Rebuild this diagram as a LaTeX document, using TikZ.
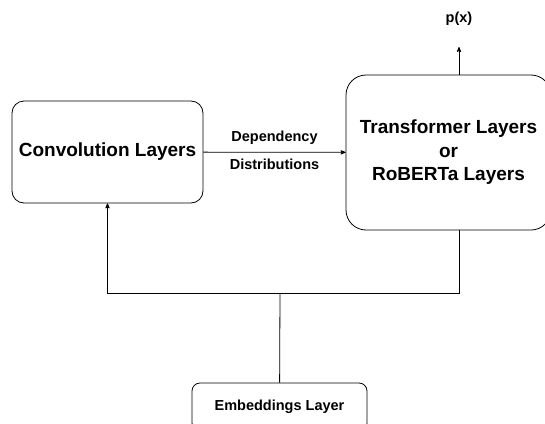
\documentclass[tikz,border=0pt]{standalone}
\usepackage{fontspec}
\setmainfont{Liberation Sans}
\usetikzlibrary{arrows,positioning}

\tikzset{
  layerbox/.style={draw, line width=0.8pt, align=center},
  bigtext/.style={font=\fontsize{19}{23.5}\selectfont\bfseries},
  smalltext/.style={font=\fontsize{14.5}{17}\selectfont\bfseries},
  flow/.style={line width=0.8pt},
}

\begin{document}
\begin{tikzpicture}[x=1pt,y=-1pt,>=stealth']
  \useasboundingbox (0,0) rectangle (545,423);
  \clip (0,0) rectangle (545,423);
  \node[layerbox, bigtext, rounded corners=12pt, minimum width=191pt, minimum height=102pt]
        (conv) at (107.5,152) {Convolution Layers};
  \node[layerbox, bigtext, rounded corners=20pt, minimum width=205pt, minimum height=155pt]
        (trans) at (448.5,152.5) {Transformer Layers\\or\\RoBERTa Layers};
  \node[layerbox, smalltext, rounded corners=8pt, minimum width=175pt, minimum height=48pt]
        (embed) at (279.5,407) {Embeddings Layer};
  \node[smalltext] (px) at (459,19) {p(x)};
  \coordinate (split) at (280,293);
  \coordinate (pxin) at (459,47);

  \draw[flow,->] (conv) -- node[above=4pt, smalltext] {Dependency}
                           node[below=3pt, smalltext] {Distributions} (trans);
  \draw[flow,->] (trans.north -| px) -- (pxin);
  \draw[flow] (embed) -- (split);
  \draw[flow,->] (split) -| (conv.south);
  \draw[flow] (split) -| (trans.south -| px);
\end{tikzpicture}
\end{document}
